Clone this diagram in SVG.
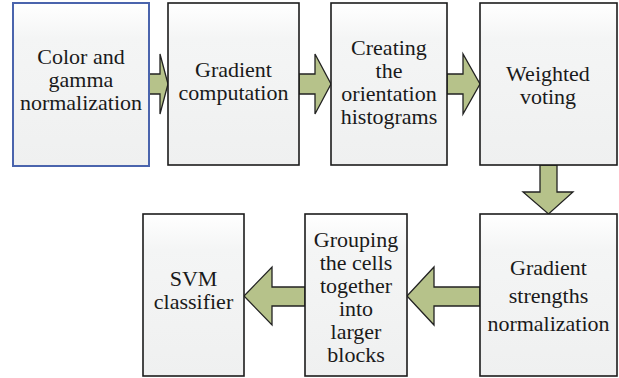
<svg xmlns="http://www.w3.org/2000/svg" width="619" height="378" viewBox="0 0 619 378">
  <defs>
    <linearGradient id="boxFill" x1="0" y1="0" x2="0" y2="1">
      <stop offset="0" stop-color="#ffffff"/>
      <stop offset="0.22" stop-color="#f4f5f5"/>
      <stop offset="1" stop-color="#eff0f0"/>
    </linearGradient>
  </defs>
  <style>
    .box { fill: url(#boxFill); stroke: #1c1c1c; stroke-width: 1.6; }
    .box.first { stroke: #4a64ad; stroke-width: 2; }
    .lbl { font-family: "Liberation Serif", "Times New Roman", serif; font-size: 22px; fill: #1a1a1a; text-anchor: middle; }
    .arrow { fill: #b6c28a; stroke: #222222; stroke-width: 1.3; stroke-linejoin: miter; }
  </style>

  <rect width="619" height="378" fill="#ffffff"/>

  <!-- block arrows between stages -->
  <g id="connectors">
    <path class="arrow" d="M149,74 H160 V54 L168,84 L160,114 V94 H149 Z"/>
    <path class="arrow" d="M299,74 H315 V54 L331,84 L315,114 V94 H299 Z"/>
    <path class="arrow" d="M447,74 H463 V54 L480,84 L463,114 V94 H447 Z"/>
    <path class="arrow" d="M540,165 V192 H523 L548.5,214 L573,192 H557 V165 Z"/>
    <path class="arrow" d="M480,287 H434 V267 L407,296 L434,325 V306 H480 Z"/>
    <path class="arrow" d="M305,287 H272 V267 L244,296 L272,325 V306 H305 Z"/>
  </g>

  <g id="color-gamma">
    <rect class="box first" x="13" y="3" width="136" height="163"/>
    <text class="lbl" x="81" y="64">Color and</text>
    <text class="lbl" x="81" y="87">gamma</text>
    <text class="lbl" x="81" y="110">normalization</text>
  </g>

  <g id="gradient-computation">
    <rect class="box" x="168" y="3" width="131" height="162"/>
    <text class="lbl" x="233.5" y="77">Gradient</text>
    <text class="lbl" x="233.5" y="100">computation</text>
  </g>

  <g id="orientation-histograms">
    <rect class="box" x="331" y="3" width="116" height="162"/>
    <text class="lbl" x="389" y="55">Creating</text>
    <text class="lbl" x="389" y="78">the</text>
    <text class="lbl" x="389" y="101">orientation</text>
    <text class="lbl" x="389" y="124">histograms</text>
  </g>

  <g id="weighted-voting">
    <rect class="box" x="480" y="3" width="137" height="162"/>
    <text class="lbl" x="548" y="80.5">Weighted</text>
    <text class="lbl" x="548" y="103.5">voting</text>
  </g>

  <g id="strengths-normalization">
    <rect class="box" x="480" y="214" width="137" height="162"/>
    <text class="lbl" x="548.5" y="275">Gradient</text>
    <text class="lbl" x="548.5" y="303">strengths</text>
    <text class="lbl" x="548.5" y="331">normalization</text>
  </g>

  <g id="grouping-blocks">
    <rect class="box" x="305" y="214" width="102" height="162"/>
    <text class="lbl" x="356" y="247">Grouping</text>
    <text class="lbl" x="356" y="270">the cells</text>
    <text class="lbl" x="356" y="293">together</text>
    <text class="lbl" x="356" y="316">into</text>
    <text class="lbl" x="356" y="339">larger</text>
    <text class="lbl" x="356" y="362">blocks</text>
  </g>

  <g id="svm-classifier">
    <rect class="box" x="143" y="214" width="101" height="162"/>
    <text class="lbl" x="193.5" y="286">SVM</text>
    <text class="lbl" x="193.5" y="309">classifier</text>
  </g>
</svg>
